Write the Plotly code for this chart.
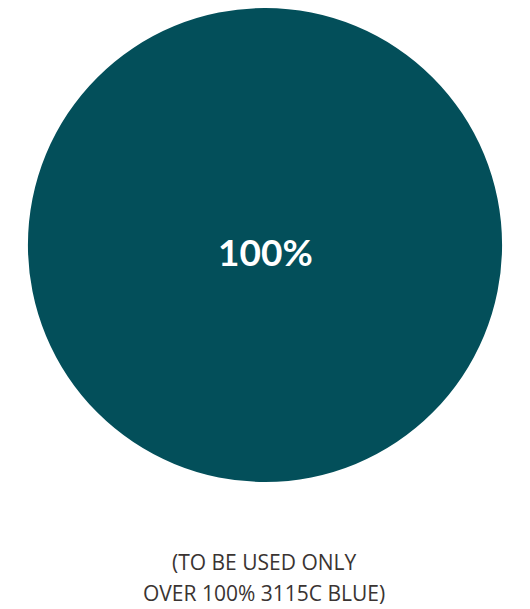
import plotly.graph_objects as go

labels = ["3115C Blue"]
values = [100]
center_label = ["100%"]
caption_lines = ["(TO BE USED ONLY", "OVER 100% 3115C BLUE)"]

W, H = 530, 609
# page body adds an 8px offset, so figure coordinates are shifted by -8
fig = go.Figure(go.Pie(
    labels=labels, values=values, sort=False,
    marker=dict(colors=["#034F5A"], line=dict(width=0)),
    textinfo="none", hoverinfo="label+percent",
    domain=dict(x=[20 / W, 494 / W], y=[1 - 474 / H, 1.0]),
    showlegend=False,
))
fig.add_annotation(x=257 / W, y=1 - 244 / H, xref="paper", yref="paper",
                   xanchor="center", yanchor="middle",
                   text=center_label[0], showarrow=False,
                   font=dict(family="Lato", size=37, color="white", weight=700))
for i, line in enumerate(caption_lines):
    fig.add_annotation(x=256 / W, y=1 - (554 + 31 * i) / H, xref="paper", yref="paper",
                       xanchor="center", yanchor="middle",
                       text=line, showarrow=False,
                       font=dict(family="Open Sans", size=21, color="#3a3432"))
fig.update_layout(width=W, height=H, margin=dict(l=0, r=0, t=0, b=0),
                  paper_bgcolor="white", plot_bgcolor="white")
fig.write_html("out.html")
